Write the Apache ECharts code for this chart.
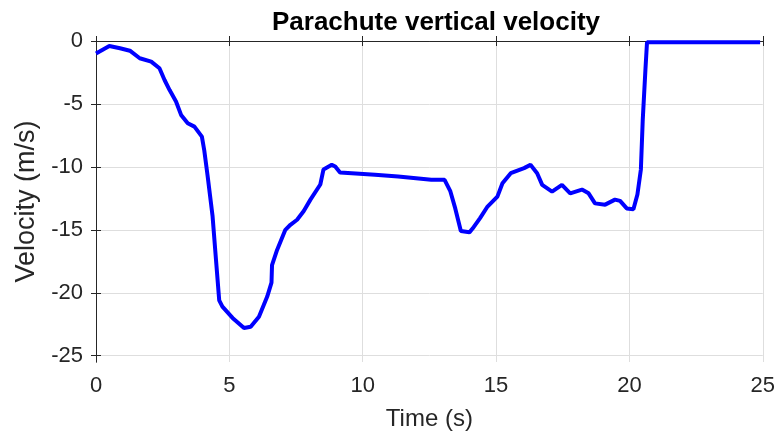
<!DOCTYPE html>
<html lang="en">
<head>
    <meta charset="UTF-8">
    <title>Parachute vertical velocity</title>
    <style>
        * { margin: 0; padding: 0; }
        body { background: #fff; }
        #chart { width: 778px; height: 437px; }
    </style>
</head>
<body>
    <div id="chart"></div>
</body>
<script src="https://cdn.jsdelivr.net/npm/echarts@6/dist/echarts.min.js"></script>
<script>
    // time (s) and vertical velocity (m/s)
    const time = [0, 0.5, 0.9, 1.27, 1.64, 2.07, 2.38, 2.57, 2.76, 3.0, 3.19, 3.44, 3.69, 3.97, 4.06,
        4.19, 4.37, 4.5, 4.62, 4.74, 5.12, 5.55, 5.8, 6.11, 6.42, 6.58, 6.6, 6.79, 7.1, 7.29, 7.54,
        7.79, 8.04, 8.41, 8.53, 8.84, 8.97, 9.15, 9.59, 10.46, 11.33, 12.57, 13.07, 13.28, 13.47,
        13.68, 14.0, 14.12, 14.4, 14.68, 15.05, 15.24, 15.55, 16.05, 16.29, 16.54, 16.73, 17.1,
        17.47, 17.78, 18.22, 18.47, 18.71, 19.09, 19.46, 19.65, 19.9, 20.15, 20.3, 20.43, 20.5,
        20.6, 20.66, 24.9];
    const velocity = [-1.0, -0.4, -0.58, -0.77, -1.37, -1.64, -2.17, -3.1, -3.9, -4.8, -5.87, -6.53,
        -6.8, -7.6, -8.7, -10.8, -13.9, -17.4, -20.6, -21.1, -22.0, -22.8, -22.7, -21.9, -20.3,
        -19.2, -17.8, -16.6, -15.0, -14.6, -14.2, -13.5, -12.6, -11.4, -10.2, -9.84, -9.97, -10.45,
        -10.5, -10.63, -10.77, -11.03, -11.03, -11.9, -13.3, -15.1, -15.2, -14.9, -14.07, -13.15,
        -12.36, -11.3, -10.5, -10.1, -9.84, -10.5, -11.43, -11.96, -11.43, -12.1, -11.8, -12.1,
        -12.9, -13.0, -12.6, -12.7, -13.3, -13.36, -12.2, -10.2, -6.27, -2.3, -0.1, -0.1];
    const xTicks = [0, 5, 10, 15, 20, 25];
    const yTicks = [-25, -20, -15, -10, -5, 0];

    const chart = echarts.init(document.getElementById('chart'));
    const font = 'Liberation Sans, Arial, sans-serif';
    const axisColor = '#262626';
    const gridStyle = { show: true, lineStyle: { color: '#dedede', width: 1 } };

    const points = time.map((t, i) => [t, velocity[i]]);

    chart.setOption({
        animation: false,
        title: {
            text: 'Parachute vertical velocity',
            left: 431, top: 5, textAlign: 'center',
            textStyle: { fontFamily: font, fontSize: 26, fontWeight: 'bold', color: '#000' }
        },
        grid: { left: 96, right: 8, top: 41, bottom: 75 },
        xAxis: [{
            type: 'value', min: 0, max: 25, interval: 5,
            name: 'Time (s)', nameLocation: 'middle', nameGap: 45,
            nameTextStyle: { fontFamily: font, fontSize: 24, color: axisColor },
            axisLine: { lineStyle: { color: axisColor, width: 1 } },
            axisTick: { inside: true, length: 5, lineStyle: { color: axisColor } },
            axisLabel: { fontFamily: font, fontSize: 22, color: axisColor, margin: 13,
                formatter: v => xTicks.includes(v) ? String(v) : '' },
            splitLine: gridStyle
        }, {
            type: 'value', min: 0, max: 25, interval: 5, position: 'top',
            axisLine: { lineStyle: { color: axisColor } },
            axisTick: { inside: true, length: 5, lineStyle: { color: axisColor } },
            axisLabel: { show: false }, splitLine: { show: false }
        }],
        yAxis: [{
            type: 'value', min: -25.5, max: 0,
            name: 'Velocity (m/s)', nameLocation: 'middle', nameGap: 56,
            nameTextStyle: { fontFamily: font, fontSize: 27, color: axisColor },
            axisLine: { lineStyle: { color: axisColor, width: 1 } },
            axisTick: { inside: true, length: 5, customValues: yTicks, lineStyle: { color: axisColor } },
            axisLabel: { fontFamily: font, fontSize: 22, color: axisColor, margin: 13, customValues: yTicks },
            splitLine: gridStyle
        }, {
            type: 'value', min: -25.5, max: 0, position: 'right',
            axisLine: { show: true, lineStyle: { color: axisColor } },
            axisTick: { show: true, inside: true, length: 5, customValues: yTicks, lineStyle: { color: axisColor } },
            axisLabel: { show: false }, splitLine: { show: false }
        }],
        series: [{
            type: 'line',
            data: points,
            showSymbol: false,
            lineStyle: { color: '#0000ff', width: 4 },
            z: 3
        }]
    });
</script>
</html>
